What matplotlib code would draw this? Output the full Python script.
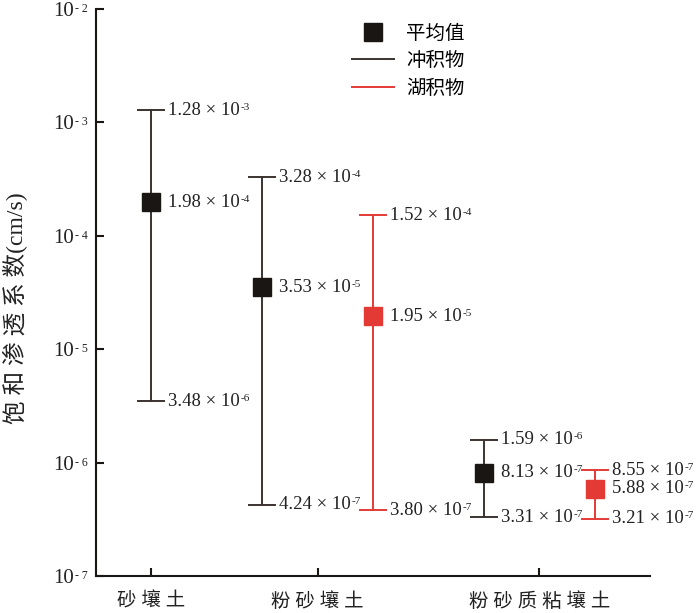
import numpy as np
import matplotlib
matplotlib.use('Agg')
from matplotlib import pyplot as plt
from matplotlib.lines import Line2D
from matplotlib.ticker import NullLocator

plt.rcParams['font.family'] = ['Liberation Serif', 'DejaVu Sans']

# latin in serif, chinese falls back to the CJK font
CJK = ['Liberation Serif', 'Noto Sans CJK SC', 'DejaVu Sans']
TXT = '#222222'

# data (cm/s)
categories = ['砂壤土', '粉砂壤土', '粉砂质粘壤土']
alluvial_mean = [1.98e-4, 3.53e-5, 8.13e-7]
alluvial_max = [1.28e-3, 3.28e-4, 1.59e-6]
alluvial_min = [3.48e-6, 4.24e-7, 3.31e-7]
lacustrine_mean = [1.95e-5, 5.88e-7]
lacustrine_max = [1.52e-4, 8.55e-7]
lacustrine_min = [3.80e-7, 3.21e-7]
y_ticks = [1e-7, 1e-6, 1e-5, 1e-4, 1e-3, 1e-2]

# layout positions on the x axis
cat_pos = [1, 4, 8]
alluvial_pos = [1, 3, 7]
lacustrine_pos = [5, 9]

BLACK = '#1a1614'
BAR_BLACK = '#3a3330'
RED = '#e43a36'

# (text object, exponent) pairs, exponents get placed after a draw
pending = []


def spaced(s):
    """wide letter spacing like the original"""
    return ' '.join(s)


def label_value(ax, x, v):
    e = int(np.floor(np.log10(v)))
    m = v / 10 ** e
    t = ax.annotate('%.2f × 10' % m, (x, v), xytext=(12, 0), textcoords='offset points',
                    ha='left', va='center', fontsize=13.5, color=TXT)
    pending.append((t, e))


def draw_series(ax, xs, means, lows, highs, color, face):
    for x, m, lo, hi in zip(xs, means, lows, highs):
        ax.plot([x, x], [lo, hi], color=color, lw=1.4, zorder=2)
        ax.plot([x - 0.235, x + 0.235], [hi, hi], color=color, lw=1.4, zorder=2)
        ax.plot([x - 0.235, x + 0.235], [lo, lo], color=color, lw=1.4, zorder=2)
        ax.plot([x], [m], marker='s', ms=12.5, mfc=face, mec=face, ls='none', zorder=3)
        for v in (hi, m, lo):
            label_value(ax, x, v)


fig = plt.figure(figsize=(7, 6.13), dpi=100)
ax = fig.add_axes([0.137, 0.0604, 0.792, 0.925])

draw_series(ax, alluvial_pos, alluvial_mean, alluvial_min, alluvial_max, BAR_BLACK, BLACK)
draw_series(ax, lacustrine_pos, lacustrine_mean, lacustrine_min, lacustrine_max, RED, RED)

ax.set_yscale('log')
ax.set_ylim(1e-7, 1e-2)
ax.set_xlim(0, 10)
ax.set_yticks(y_ticks)
ax.set_yticklabels(['10'] * len(y_ticks), fontsize=15, color=TXT)
ax.yaxis.set_minor_locator(NullLocator())

ax.set_xticks(cat_pos)
ax.set_xticklabels([spaced(c) for c in categories], family=CJK, fontsize=14, color=TXT)

for s in ('top', 'right'):
    ax.spines[s].set_visible(False)
for s in ('left', 'bottom'):
    ax.spines[s].set_linewidth(1.5)
    ax.spines[s].set_color(BLACK)
ax.tick_params(direction='in', length=6, width=1.5, colors=BLACK)
ax.tick_params(axis='x', pad=12, labelcolor=TXT)
ax.tick_params(axis='y', pad=16, labelcolor=TXT)

fig.text(0.022, 0.497, spaced('饱和渗透系数') + '(cm/s)', family=CJK, fontsize=17,
         rotation=90, ha='center', va='center', color=TXT)

handles = [
    Line2D([], [], marker='s', ms=12.5, mfc=BLACK, mec=BLACK, ls='none'),
    Line2D([], [], color=BAR_BLACK, lw=1.4),
    Line2D([], [], color=RED, lw=1.4),
]
ax.legend(handles, ['平均值', '冲积物', '湖积物'], prop={'family': CJK, 'size': 14},
          frameon=False, loc='upper left', bbox_to_anchor=(0.48, 0.985),
          bbox_transform=fig.transFigure, handlelength=2.2, labelspacing=0.47,
          handletextpad=0.6, borderpad=0.3)

# put the small exponents next to the "10" parts
fig.canvas.draw()
renderer = fig.canvas.get_renderer()
for t, e in pending:
    bb = t.get_window_extent(renderer)
    ax.annotate('-%d' % abs(e), (bb.x1 + 1, bb.y1 - 1), xycoords='figure pixels',
                ha='left', va='top', fontsize=8, color=TXT)
for t, e in zip(ax.get_yticklabels(), range(-7, -1)):
    bb = t.get_window_extent(renderer)
    ax.annotate('- %d' % abs(e), (bb.x1 + 1, bb.y1 - 1), xycoords='figure pixels',
                ha='left', va='top', fontsize=8.5, color=TXT, annotation_clip=False)

fig.savefig('out.png', dpi=100)
